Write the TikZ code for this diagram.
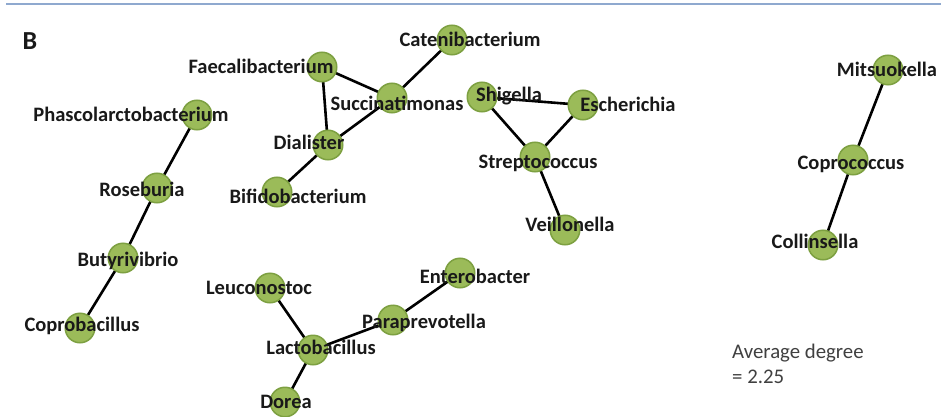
\documentclass[tikz,border=0pt]{standalone}
\usepackage{fontspec}
\setmainfont{Carlito}
\usetikzlibrary{backgrounds}
\definecolor{nodegreen}{RGB}{155,187,89}
\definecolor{nodeedge}{RGB}{125,160,65}
\definecolor{topline}{RGB}{143,169,207}
\definecolor{txt}{RGB}{25,25,25}
\definecolor{graytxt}{RGB}{64,64,64}
\tikzset{
  vtx/.style={circle,fill=nodegreen,draw=nodeedge,line width=1.5pt,minimum size=29.5pt,inner sep=0pt},
  lbl/.style={font=\fontsize{20.5}{24}\selectfont\bfseries,text=txt,anchor=mid,inner sep=0pt},
  link/.style={line width=2.6pt,black}
}
\begin{document}
\begin{tikzpicture}[x=1pt,y=-1pt]
\useasboundingbox (0,0) rectangle (941,417);
\draw[topline,line width=2pt] (6,4) -- (941,4);
\node[font=\fontsize{26}{28}\selectfont\bfseries,text=txt,anchor=mid] (B) at (30,47) {B};
% vertices
\node[vtx] (cat) at (452,40) {};
\node[vtx] (fae) at (322,67) {};
\node[vtx] (suc) at (392,98) {};
\node[vtx] (dia) at (328,145) {};
\node[vtx] (bif) at (277,192) {};
\node[vtx] (pha) at (197,115) {};
\node[vtx] (ros) at (157,188) {};
\node[vtx] (but) at (123,258) {};
\node[vtx] (cob) at (80,328) {};
\node[vtx] (leu) at (270,288) {};
\node[vtx] (lac) at (313,350) {};
\node[vtx] (dor) at (285,402) {};
\node[vtx] (par) at (393,320) {};
\node[vtx] (ent) at (460,273) {};
\node[vtx] (shi) at (482,97) {};
\node[vtx] (esc) at (583,105) {};
\node[vtx] (str) at (535,157) {};
\node[vtx] (vei) at (565,230) {};
\node[vtx] (mit) at (888,70) {};
\node[vtx] (coc) at (853,160) {};
\node[vtx] (col) at (823,245) {};
% edges (behind circles)
\begin{pgfonlayer}{background}
\fill[white] (0,0) rectangle (941,417);
\draw[link] (pha.center) -- (ros.center) (ros.center) -- (but.center) (but.center) -- (cob.center);
\draw[link] (fae.center) -- (suc.center) (fae.center) -- (dia.center) (dia.center) -- (suc.center) (suc.center) -- (cat.center) (dia.center) -- (bif.center);
\draw[link] (shi.center) -- (esc.center) (shi.center) -- (str.center) (esc.center) -- (str.center) (str.center) -- (vei.center);
\draw[link] (leu.center) -- (lac.center) (lac.center) -- (par.center) (par.center) -- (ent.center) (lac.center) -- (dor.center);
\draw[link] (mit.center) -- (coc.center) (coc.center) -- (col.center);
\end{pgfonlayer}
% labels
\node[lbl] (Lcat) at (470,44) {Catenibacterium};
\node[lbl] (Lfae) at (261,71) {Faecalibacterium};
\node[lbl] (Lsuc) at (397,108) {Succinatimonas};
\node[lbl] (Ldia) at (309,147) {Dialister};
\node[lbl] (Lbif) at (298,201) {Bifidobacterium};
\node[lbl] (Lpha) at (131,119) {Phascolarctobacterium};
\node[lbl] (Lros) at (142,194) {Roseburia};
\node[lbl] (Lbut) at (128,264) {Butyrivibrio};
\node[lbl] (Lcob) at (82,329) {Coprobacillus};
\node[lbl] (Lleu) at (259,292) {Leuconostoc};
\node[lbl] (Llac) at (321,352) {Lactobacillus};
\node[lbl] (Ldor) at (286,406) {Dorea};
\node[lbl] (Lpar) at (424,326) {Paraprevotella};
\node[lbl] (Lent) at (475,281) {Enterobacter};
\node[lbl] (Lshi) at (509,99) {Shigella};
\node[lbl] (Lesc) at (628,109) {Escherichia};
\node[lbl] (Lstr) at (538,166) {Streptococcus};
\node[lbl] (Lvei) at (570,229) {Veillonella};
\node[lbl] (Lmit) at (887,74) {Mitsuokella};
\node[lbl] (Lcoc) at (851,167) {Coprococcus};
\node[lbl] (Lcol) at (815,246) {Collinsella};
\node[font=\fontsize{20.8}{25}\selectfont,text=graytxt,align=left,anchor=north west,inner sep=0pt] (avg) at (732,344) {Average degree\\= 2.25};
\end{tikzpicture}
\end{document}
